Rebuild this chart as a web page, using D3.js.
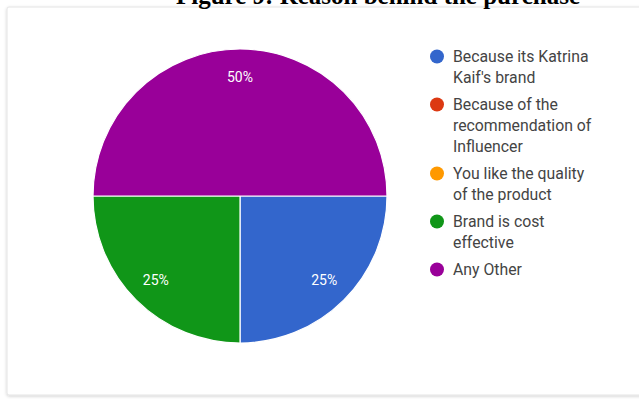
<!DOCTYPE html>
<html>
<head>
<meta charset="utf-8">
<script src="https://cdn.jsdelivr.net/npm/d3@7"></script>
<style>
  html, body { margin: 0; padding: 0; background: #fff; }
  svg { display: block; }
</style>
</head>
<body>
<svg id="chart" width="639" height="399"></svg>
<script>
// Survey responses: reason behind the purchase
const categories = [
  "Because its Katrina Kaif's brand",
  "Because of the recommendation of Influencer",
  "You like the quality of the product",
  "Brand is cost effective",
  "Any Other"
];
const values = [25, 0, 0, 25, 50];
const colors = ["#3366cc", "#dc3912", "#ff9900", "#109618", "#990099"];
// Legend text, wrapped as shown
const legendLines = [
  ["Because its Katrina", "Kaif's brand"],
  ["Because of the", "recommendation of", "Influencer"],
  ["You like the quality", "of the product"],
  ["Brand is cost", "effective"],
  ["Any Other"]
];
const title = "Figure 9: Reason behind the purchase";

const svg = d3.select("#chart");

// Card background with a faint shadow on the left and bottom
const defs = svg.append("defs");
const sh = defs.append("filter").attr("id", "cardShadow")
  .attr("x", "-5%").attr("y", "-5%").attr("width", "110%").attr("height", "110%");
sh.append("feDropShadow").attr("dx", 0).attr("dy", 1).attr("stdDeviation", 1.5)
  .attr("flood-color", "#000").attr("flood-opacity", 0.18);

svg.append("rect")
  .attr("x", 7).attr("y", 7).attr("width", 660).attr("height", 388)
  .attr("rx", 2)
  .attr("fill", "#fff")
  .attr("stroke", "#e4e4e4")
  .attr("filter", "url(#cardShadow)");

// Title (cropped at the top edge)
svg.append("text")
  .attr("x", 176).attr("y", 4)
  .attr("font-family", "'Liberation Serif', 'Times New Roman', serif")
  .attr("font-weight", "bold")
  .attr("font-size", 25)
  .attr("fill", "#000")
  .text(title);

// Pie
const cx = 240, cy = 196, radius = 147;
const color = d3.scaleOrdinal().domain(categories).range(colors);
const total = d3.sum(values);
const data = categories.map((c, i) => ({ name: c, value: values[i] }));

const pie = d3.pie()
  .value(d => d.value)
  .sort(null)
  .startAngle(Math.PI / 2)
  .endAngle(Math.PI / 2 + 2 * Math.PI);

const arc = d3.arc().innerRadius(0).outerRadius(radius);
const labelArc = d3.arc().innerRadius(radius * 0.81).outerRadius(radius * 0.81);

const g = svg.append("g").attr("transform", `translate(${cx},${cy})`);

const arcs = pie(data).filter(d => d.data.value > 0);

g.selectAll("path.slice")
  .data(arcs)
  .join("path")
  .attr("class", "slice")
  .attr("d", arc)
  .attr("fill", d => color(d.data.name))
  .attr("stroke", "#fff")
  .attr("stroke-width", 1.2);

g.selectAll("text.pct")
  .data(arcs)
  .join("text")
  .attr("class", "pct")
  .attr("transform", d => `translate(${labelArc.centroid(d)})`)
  .attr("text-anchor", "middle")
  .attr("dy", "0.35em")
  .attr("font-family", "Roboto, Arial, sans-serif")
  .attr("font-size", 14)
  .attr("fill", "#fff")
  .text(d => Math.round(d.data.value / total * 100) + "%");

// Legend
const legend = svg.append("g").attr("transform", "translate(437,56.5)");
const lineH = 21, itemGap = 6;
let yPos = 0;
categories.forEach((c, i) => {
  const item = legend.append("g").attr("transform", `translate(0,${yPos})`);
  item.append("circle")
    .attr("cx", 0).attr("cy", 0).attr("r", 7)
    .attr("fill", color(c));
  const t = item.append("text")
    .attr("x", 16).attr("y", 0)
    .attr("font-family", "Roboto, Arial, sans-serif")
    .attr("font-size", 15.8)
    .attr("fill", "#444");
  legendLines[i].forEach((ln, j) => {
    t.append("tspan")
      .attr("x", 16)
      .attr("y", j * lineH)
      .attr("dy", "0.35em")
      .text(ln);
  });
  yPos += legendLines[i].length * lineH + itemGap;
});
</script>
</body>
</html>
